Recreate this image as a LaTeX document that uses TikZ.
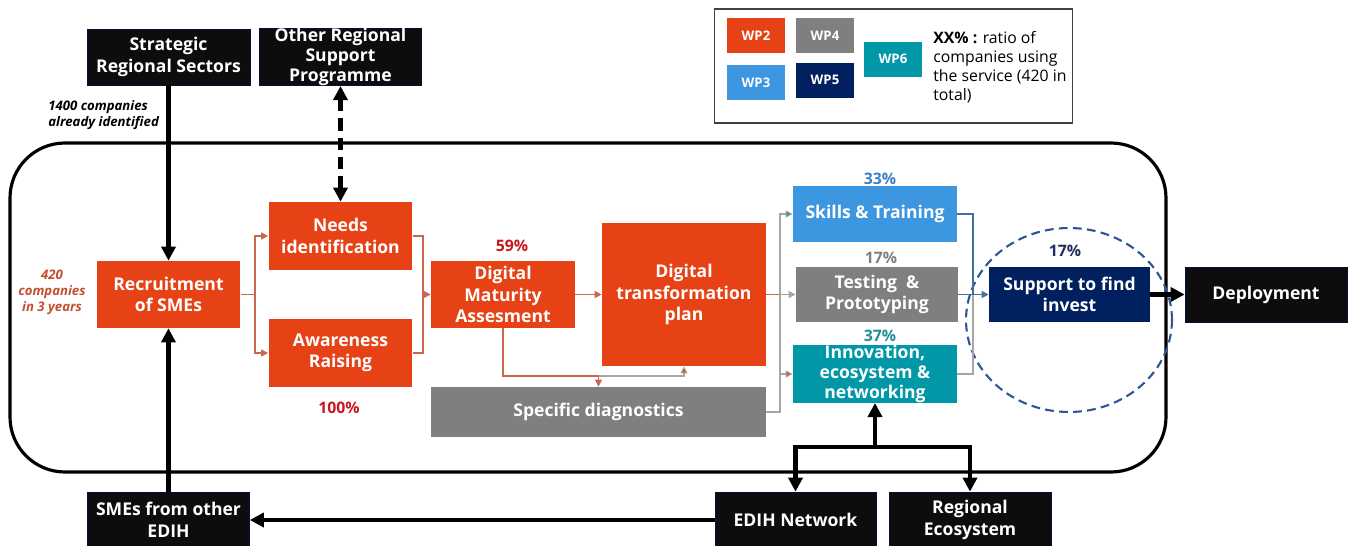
\documentclass[tikz,border=0pt]{standalone}
\usepackage{fontspec}
\setmainfont{Open Sans}
\usetikzlibrary{arrows.meta}
\definecolor{wporange}{HTML}{E64216}
\definecolor{wpgray}{HTML}{7F7F7F}
\definecolor{wpblue}{HTML}{3C96E0}
\definecolor{wpnavy}{HTML}{002060}
\definecolor{wpteal}{HTML}{0097A7}
\definecolor{boxblack}{HTML}{0D0D0D}
\definecolor{pctred}{HTML}{C8161E}
\definecolor{pctblue}{HTML}{3A7EC6}
\definecolor{pctteal}{HTML}{1F8E9A}
\definecolor{pctnavy}{HTML}{1F2C5C}
\definecolor{noteorange}{HTML}{C0502F}
\definecolor{linkorange}{HTML}{C8664E}
\definecolor{linkgray}{HTML}{A6A6A6}
\definecolor{linkblue}{HTML}{41719C}
\definecolor{ringblue}{HTML}{2F5597}
\tikzset{
  box/.style={fill=#1, text=white, font=\fontsize{10}{12.3}\selectfont\bfseries,
    align=center, inner sep=0pt},
  tight/.style={font=\fontsize{10}{11.3}\selectfont\bfseries},
  ext/.style={box=boxblack, draw=wpnavy!60!black, line width=0.4pt},
  wp/.style={fill=#1, text=white, font=\fontsize{7.5}{9}\selectfont\bfseries,
    minimum width=1.16cm, minimum height=0.7cm, inner sep=0pt},
  pct/.style={font=\fontsize{9}{11}\selectfont\bfseries, inner sep=0pt},
  note/.style={font=\fontsize{7.5}{9}\selectfont\bfseries\itshape, inner sep=0pt},
  link/.style={draw=linkorange, line width=0.6pt, -{Triangle[length=4pt,width=4pt]}},
  glink/.style={draw=linkgray, line width=0.6pt, -{Triangle[length=4pt,width=4pt]}},
  heavy/.style={line width=2.4pt, -{Triangle[length=8pt,width=8pt]}},
}
\begin{document}
\begin{tikzpicture}[x=0.02cm,y=-0.02cm]
  \useasboundingbox (0,0) rectangle (1350,545);

  % frame of the hub
  \draw[line width=1.8pt, rounded corners=1.1cm] (10,143) rectangle (1166,472);

  % legend
  \node[draw=black!75, line width=0.6pt, minimum width=7.18cm, minimum height=2.28cm] (legend) at (893.5,66) {};
  \node[wp=wporange] (wp2) at (756,35.5) {WP2};
  \node[wp=wpgray] (wp4) at (825,35.5) {WP4};
  \node[wp=wpblue] (wp3) at (756,82.5) {WP3};
  \node[wp=wpnavy] (wp5) at (825,80) {WP5};
  \node[wp=wpteal] (wp6) at (893,59) {WP6};
  \node[anchor=west, align=left, inner sep=0pt, font=\fontsize{9}{10.8}\selectfont] (legtext) at (933,67.5)
    {\textbf{XX\% :} ratio of\\companies using\\the service (420 in\\total)};

  % outside actors
  \node[ext, minimum width=3.26cm, minimum height=1.12cm] (strat) at (168.5,57) {Strategic\\Regional Sectors};
  \node[ext, tight, minimum width=3.24cm, minimum height=1.12cm] (other) at (340.5,57) {Other Regional\\Support\\Programme};
  \node[ext, minimum width=3.24cm, minimum height=1.12cm] (smes) at (168.5,520) {SMEs from other\\EDIH};
  \node[ext, minimum width=3.22cm, minimum height=1.12cm] (edih) at (795.5,520) {EDIH Network};
  \node[ext, minimum width=3.24cm, minimum height=1.12cm] (regeco) at (970,520) {Regional\\Ecosystem};
  \node[ext, minimum width=3.24cm, minimum height=1.1cm] (deploy) at (1266,294.5) {Deployment};

  % services
  \node[box=wporange, minimum width=2.88cm, minimum height=1.34cm] (recr) at (168.5,294.5) {Recruitment\\of SMEs};
  \node[box=wporange, minimum width=2.88cm, minimum height=1.36cm] (needs) at (340.5,236) {Needs\\identification};
  \node[box=wporange, minimum width=2.88cm, minimum height=1.36cm] (aware) at (340.5,353) {Awareness\\Raising};
  \node[box=wporange, minimum width=2.88cm, minimum height=1.34cm] (dma) at (503,294.5) {Digital\\Maturity\\Assesment};
  \node[box=wporange, minimum width=3.28cm, minimum height=2.86cm] (dtp) at (684,294.5) {Digital\\transformation\\plan};
  \node[box=wpgray, minimum width=6.7cm, minimum height=1cm] (spec) at (598.5,412) {Specific diagnostics};
  \node[box=wpblue, minimum width=3.28cm, minimum height=1.12cm] (skills) at (875,214) {Skills \& Training};
  \node[box=wpgray, minimum width=3.24cm, minimum height=1.1cm] (test) at (877,294.5) {Testing~ \&\\Prototyping};
  \node[box=wpteal, tight, minimum width=3.28cm, minimum height=1.12cm] (innov) at (875,374) {Innovation,\\ecosystem \&\\networking};
  \node[box=wpnavy, minimum width=3.22cm, minimum height=1.1cm] (supp) at (1069.5,294.5) {Support to find\\invest};
  \draw[ringblue, line width=1.2pt, dash pattern=on 5pt off 3pt] (1069,320) ellipse [x radius=2.06cm, y radius=1.84cm];

  % ratios and notes
  \node[pct, text=pctred] (p100) at (339,408) {100\%};
  \node[pct, text=pctred] (p59) at (512,246) {59\%};
  \node[pct, text=pctblue] (p33) at (880,179) {33\%};
  \node[pct, text=wpgray] (p17t) at (881,258) {17\%};
  \node[pct, text=pctteal] (p37) at (880,336) {37\%};
  \node[pct, text=pctnavy] (p17s) at (1065,251) {17\%};
  \node[note, anchor=west, align=left] (known) at (48,115) {1400 companies\\already identified};
  \node[note, text=noteorange, align=center] (target) at (52,292) {420\\companies\\in 3 years};

  % thin flow
  \coordinate (jr) at (255,294.5);
  \coordinate (jn) at (423,294.5);
  \coordinate (jd) at (598.5,376);
  \coordinate (jt) at (780,294.5);
  \coordinate (js) at (973,294.5);
  \draw[link, -] (recr.east) -- (jr);
  \draw[link] (jr) |- (needs.west);
  \draw[link] (jr) |- (aware.west);
  \draw[link, -] (needs.east) -| (jn);
  \draw[link, -] (aware.east) -| (jn);
  \draw[link] (jn) -- (dma.west);
  \draw[link] (dma.east) -- (dtp.west);
  \draw[link] (dma.south) |- (jd) -- (spec.north);
  \draw[glink, -{Triangle[length=4pt,width=4pt,fill=wporange]}] (jd) -| (dtp.south);
  \draw[link, -] (dtp.east) -- (jt);
  \draw[glink] (jt) -- (test.west);
  \draw[glink, -{Triangle[length=4pt,width=4pt,fill=wpteal]}] (jt) |- (skills.west);
  \draw[glink, -{Triangle[length=4pt,width=4pt,fill=wporange]}] (jt) |- (innov.west);
  \draw[glink, -] (spec.east) -| (jt);
  \draw[linkblue, line width=0.6pt] (skills.east) -| (js);
  \draw[glink, -] (innov.east) -| (js);
  \draw[glink, draw=linkblue] (test.east) -- (supp.west);

  % heavy flow
  \draw[heavy] (strat.south) -- (recr.north);
  \draw[heavy] (smes.north) -- (recr.south);
  \draw[heavy, {Triangle[length=8pt,width=8pt]}-{Triangle[length=8pt,width=8pt]}, dash pattern=on 7pt off 4pt] (other.south) -- (needs.north);
  \draw[heavy] (supp.east) -- (deploy.west);
  \coordinate (je) at (875,447);
  \draw[heavy] (je) -- (innov.south);
  \draw[heavy, {Triangle[length=8pt,width=8pt]}-{Triangle[length=8pt,width=8pt]}] (edih.north) |- (je) -| (regeco.north);
  \draw[heavy] (edih.west) -- (smes.east);
\end{tikzpicture}
\end{document}
